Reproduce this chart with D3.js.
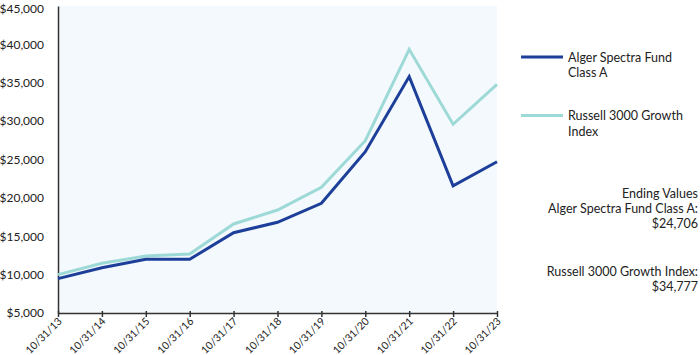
<!DOCTYPE html>
<html>
<head>
<meta charset="utf-8">
<script src="https://cdn.jsdelivr.net/npm/d3@7"></script>
<style>
body{margin:0;background:#fff;}
svg text{font-family:Lato, "Open Sans", sans-serif;fill:#222;}
</style>
</head>
<body>
<svg id="chart" width="700" height="355"></svg>
<script>
const dates = ["10/31/13","10/31/14","10/31/15","10/31/16","10/31/17","10/31/18","10/31/19","10/31/20","10/31/21","10/31/22","10/31/23"];
const fundValues = [9475, 10900, 12000, 12000, 15460, 16820, 19290, 26020, 35800, 21560, 24706];
const indexValues = [10000, 11480, 12430, 12690, 16600, 18420, 21380, 27450, 39350, 29590, 34777];
const yTicks = [5000,10000,15000,20000,25000,30000,35000,40000,45000];
const seriesNames = ["Alger Spectra Fund Class A","Russell 3000 Growth Index"];
const seriesColors = ["#1d3f99","#9dd9d6"];

const svg = d3.select("#chart");
const L = 58, R = 497, T = 6, B = 313;
const x = d3.scalePoint().domain(dates).range([L, R]);
const y = d3.scaleLinear().domain([5000,45000]).range([B, T]);

svg.append("rect").attr("x",L).attr("y",T).attr("width",R-L).attr("height",B-T).attr("fill","#f3f9fc");

// y axis
const yAxis = svg.append("g").attr("transform",`translate(${L},0)`)
  .call(d3.axisLeft(y).tickValues(yTicks).tickSize(0).tickPadding(14).tickFormat(d=>"$"+d3.format(",")(d)));
yAxis.select(".domain").attr("stroke","#333").attr("stroke-width",1.5);
yAxis.selectAll("text").attr("font-size","12px").attr("fill","#222").style("font-family","Lato, 'Open Sans', sans-serif")
  .attr("dy", d => d === 45000 ? "0.55em" : "0.32em");

// x axis
const xAxis = svg.append("g").attr("transform",`translate(0,${B})`)
  .call(d3.axisBottom(x).tickSize(5).tickSizeOuter(0));
xAxis.select(".domain").attr("stroke","#333").attr("stroke-width",1.5);
xAxis.selectAll(".tick line").attr("stroke","#333").attr("stroke-width",1.5).attr("y1",-2).attr("y2",4);
xAxis.selectAll("text").attr("font-size","10.5px").attr("fill","#222")
  .style("font-family","Lato, 'Open Sans', sans-serif")
  .attr("text-anchor","end").attr("dy","0").attr("y",0)
  .attr("transform","translate(4,9) rotate(-45)");

const line = d3.line().x((d,i)=>x(dates[i])).y(d=>y(d));
[indexValues, fundValues].forEach((vals, k)=>{
  const ci = k===0 ? 1 : 0;
  svg.append("path").datum(vals).attr("d",line).attr("fill","none")
    .attr("stroke",seriesColors[ci]).attr("stroke-width",3).attr("stroke-linejoin","miter");
});

// legend
const leg = [
  {lines:["Alger Spectra Fund","Class A"], y:57, c:seriesColors[0]},
  {lines:["Russell 3000 Growth","Index"], y:115.5, c:seriesColors[1]}
];
leg.forEach(l=>{
  svg.append("line").attr("x1",521).attr("x2",563).attr("y1",l.y).attr("y2",l.y).attr("stroke",l.c).attr("stroke-width",3);
  l.lines.forEach((t,i)=>{
    svg.append("text").attr("x",568).attr("y",l.y+4.5+i*15.5).attr("font-size","12.5px").text(t);
  });
});

// ending values
const ev = [
  ["Ending Values",198],
  [seriesNames[0]+":",213],
  ["$"+d3.format(",")(fundValues[fundValues.length-1]),228],
  [seriesNames[1]+":",275.5],
  ["$"+d3.format(",")(indexValues[indexValues.length-1]),290.5]
];
ev.forEach(([t,yy])=>{
  svg.append("text").attr("x",698).attr("y",yy).attr("text-anchor","end").attr("font-size","12.5px").text(t);
});
</script>
</body>
</html>
